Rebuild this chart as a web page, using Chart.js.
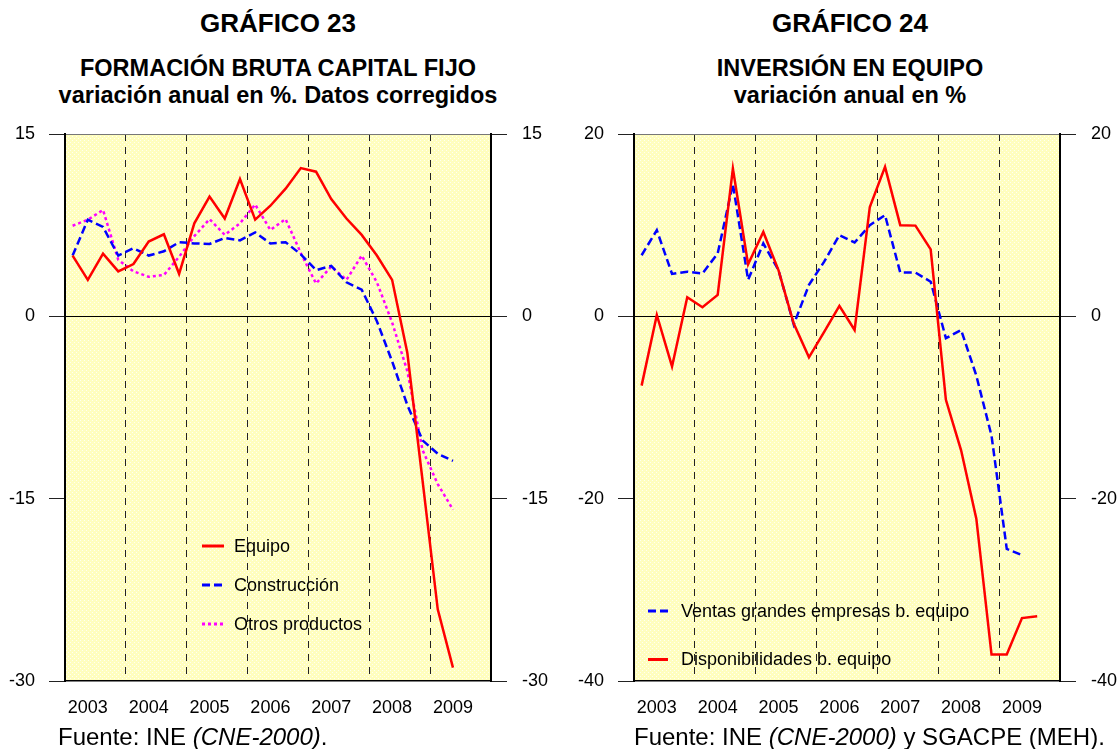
<!DOCTYPE html>
<html>
<head>
<meta charset="utf-8">
<script src="https://cdn.jsdelivr.net/npm/chart.js@4.4.0/dist/chart.umd.min.js"></script>
<style>
  body { margin: 0; width: 1119px; height: 749px; background: #fff; position: relative; overflow: hidden;
         font-family: "Liberation Sans", Arial, sans-serif; color: #000; }
  .t { position: absolute; text-align: center; font-weight: bold; white-space: nowrap; line-height: 1; }
  .src { position: absolute; font-size: 24px; line-height: 1; white-space: nowrap; }
  canvas { position: absolute; }
</style>
</head>
<body>
<div class="t" style="left:0;width:556px;top:10px;font-size:26px">GRÁFICO 23</div>
<div class="t" style="left:0;width:556px;top:57px;font-size:23.5px">FORMACIÓN BRUTA CAPITAL FIJO</div>
<div class="t" style="left:0;width:556px;top:84px;font-size:23.5px">variación anual en %. Datos corregidos</div>

<div class="t" style="left:560px;width:580px;top:10px;font-size:26px">GRÁFICO 24</div>
<div class="t" style="left:560px;width:580px;top:57px;font-size:23.5px">INVERSIÓN EN EQUIPO</div>
<div class="t" style="left:560px;width:580px;top:84px;font-size:23.5px">variación anual en %</div>

<canvas id="g23" width="560" height="610" style="left:0;top:120px"></canvas>
<canvas id="g24" width="559" height="610" style="left:560px;top:120px"></canvas>

<div class="src" style="left:58px;top:725px">Fuente: INE <i>(CNE-2000)</i>.</div>
<div class="src" style="left:634px;top:725px">Fuente: INE <i>(CNE-2000)</i> y SGACPE (MEH).</div>

<script>
// years on the x axis, quarterly data from 2003 Q1
var years = ["2003", "2004", "2005", "2006", "2007", "2008", "2009"];

// Gráfico 23
var equipo = [5.0, 3.0, 5.15, 3.7, 4.3, 6.15, 6.75, 3.5, 7.65, 9.85, 8.05, 11.3, 7.95, 9.1, 10.5, 12.2,
              11.9, 9.65, 8.05, 6.7, 5.0, 3.0, -3.0, -13.5, -24.1, -28.9];
var construccion = [5.0, 7.95, 7.35, 5.0, 5.6, 5.0, 5.35, 6.1, 6.0, 5.95, 6.45, 6.25, 6.9, 6.0, 6.1, 5.1,
                    3.8, 4.15, 2.8, 2.2, -0.4, -3.7, -7.3, -10.2, -11.3, -11.9];
var otros = [7.45, 7.95, 8.75, 4.65, 3.7, 3.25, 3.4, 4.9, 6.6, 8.0, 6.7, 7.65, 9.2, 7.1, 8.0, 5.2,
             2.7, 4.1, 3.0, 5.0, 2.8, -0.5, -4.5, -11.0, -13.8, -15.9];

// Gráfico 24
var disponibilidades = [-7.6, 0.15, -5.5, 2.1, 1.0, 2.35, 16.2, 5.7, 9.25, 5.05, -0.8, -4.5, -1.7, 1.15, -1.5, 12.0,
                        16.4, 10.0, 9.95, 7.35, -9.15, -14.7, -22.2, -37.1, -37.1, -33.1, -32.9];
var ventas = [6.7, 9.45, 4.65, 4.9, 4.7, 6.9, 14.5, 4.0, 8.0, 5.05, -0.9, 3.45, 6.0, 8.9, 8.1, 10.0,
              11.1, 4.8, 4.8, 3.8, -2.4, -1.5, -6.5, -13.1, -25.5, -26.2];

// tick positions: year label on 2nd quarter, dashed line between Q4 and Q1
var yearTicks = years.map(function (y, i) { return 4 * i + 1; });
var yearBounds = years.slice(1).map(function (y, i) { return 4 * (i + 1) - 0.5; });

function pts(arr) {
  return arr.map(function (v, i) { return { x: i, y: v }; });
}

// pale yellow dotted fill of the plot area
var tile = document.createElement("canvas");
tile.width = tile.height = 4;
var tc = tile.getContext("2d");
tc.fillStyle = "#FFFEBE";
tc.fillRect(0, 0, 4, 4);
tc.fillStyle = "#FFFFF2";
tc.fillRect(0, 0, 1, 1);
tc.fillRect(2, 2, 1, 1);

var plotBg = {
  id: "plotBg",
  beforeDraw: function (chart) {
    var a = chart.chartArea, ctx = chart.ctx;
    ctx.save();
    ctx.fillStyle = ctx.createPattern(tile, "repeat");
    ctx.fillRect(a.left, a.top, a.right - a.left, a.bottom - a.top);
    ctx.restore();
  }
};

// legend drawn inside the plot area
var insideLegend = {
  id: "insideLegend",
  afterDatasetsDraw: function (chart, args, o) {
    var ctx = chart.ctx, a = chart.chartArea;
    ctx.save();
    ctx.font = '18px "Liberation Sans", Arial, sans-serif';
    ctx.textBaseline = "middle";
    ctx.textAlign = "left";
    o.items.forEach(function (idx, k) {
      var ds = chart.data.datasets[idx];
      var y = a.top + o.y + k * o.gap;
      ctx.strokeStyle = ds.borderColor;
      ctx.lineWidth = 3;
      ctx.setLineDash(ds.borderDash || []);
      ctx.beginPath();
      ctx.moveTo(a.left + o.x, y);
      ctx.lineTo(a.left + o.x + o.len, y);
      ctx.stroke();
      ctx.setLineDash([]);
      ctx.fillStyle = "#000";
      ctx.fillText(ds.label, a.left + o.tx, y + 1);
    });
    ctx.restore();
  }
};

function fixWidth(w) {
  return function (s) {
    s.width = w;
    s.paddingTop = 0;
    s.paddingBottom = 0;
  };
}

function makeOptions(yMin, yMax, step, leftW, rightW, legend) {
  var font = { family: '"Liberation Sans", Arial, sans-serif', size: 18 };
  return {
    responsive: false,
    animation: false,
    devicePixelRatio: 1,
    layout: { padding: { top: 14, left: 0, right: 0, bottom: 0 } },
    elements: { point: { radius: 0 }, line: { tension: 0 } },
    plugins: {
      legend: { display: false },
      tooltip: { enabled: false },
      insideLegend: legend
    },
    scales: {
      x: {
        type: "linear",
        min: -0.5,
        max: years.length * 4 - 0.5,
        afterBuildTicks: function (s) {
          s.ticks = yearTicks.concat(yearBounds).sort(function (a, b) { return a - b; })
            .map(function (v) { return { value: v }; });
        },
        afterFit: function (s) { s.height = 49; },
        grid: {
          drawTicks: false,
          lineWidth: 1,
          color: function (c) { return yearBounds.indexOf(c.tick.value) >= 0 ? "#222" : "rgba(0,0,0,0)"; }
        },
        border: { color: "#000", width: 1.5, dash: [7, 6] },
        ticks: {
          autoSkip: false,
          maxRotation: 0,
          padding: 16,
          color: "#000",
          font: font,
          callback: function (v) {
            var i = yearTicks.indexOf(v);
            return i >= 0 ? years[i] : "";
          }
        }
      },
      y: {
        position: "left",
        min: yMin,
        max: yMax,
        afterFit: fixWidth(leftW),
        grid: {
          tickLength: 16,
          tickColor: "#222",
          lineWidth: 1,
          color: function (c) {
            if (c.tick.value === 0) return "#000";
            if (c.tick.value === yMax) return "#777";
            return "rgba(0,0,0,0)";
          }
        },
        border: { color: "#000", width: 2 },
        ticks: { stepSize: step, padding: 14, color: "#000", font: font }
      },
      y2: {
        position: "right",
        min: yMin,
        max: yMax,
        afterFit: fixWidth(rightW),
        grid: { drawOnChartArea: false, tickLength: 16, tickColor: "#222" },
        border: { color: "#000", width: 2 },
        ticks: { stepSize: step, padding: 15, color: "#000", font: font }
      }
    }
  };
}

new Chart(document.getElementById("g23"), {
  type: "line",
  data: {
    datasets: [
      { label: "Equipo", data: pts(equipo), borderColor: "#FF0000", borderWidth: 2.5 },
      { label: "Construcción", data: pts(construccion), borderColor: "#0000FF", borderWidth: 2.5, borderDash: [8, 4] },
      { label: "Otros productos", data: pts(otros), borderColor: "#FF00FF", borderWidth: 2.5, borderDash: [3, 3] }
    ]
  },
  options: makeOptions(-30, 15, 15, 65, 69, { items: [0, 1, 2], x: 137, len: 22, tx: 169, y: 412, gap: 39 }),
  plugins: [plotBg, insideLegend]
});

new Chart(document.getElementById("g24"), {
  type: "line",
  data: {
    datasets: [
      { label: "Disponibilidades b. equipo", data: pts(disponibilidades), borderColor: "#FF0000", borderWidth: 2.5 },
      { label: "Ventas grandes empresas b. equipo", data: pts(ventas), borderColor: "#0000FF", borderWidth: 2.5, borderDash: [8, 4] }
    ]
  },
  options: makeOptions(-40, 20, 20, 74, 59, { items: [1, 0], x: 14, len: 20, tx: 47, y: 477, gap: 48.5 }),
  plugins: [plotBg, insideLegend]
});
</script>
</body>
</html>
